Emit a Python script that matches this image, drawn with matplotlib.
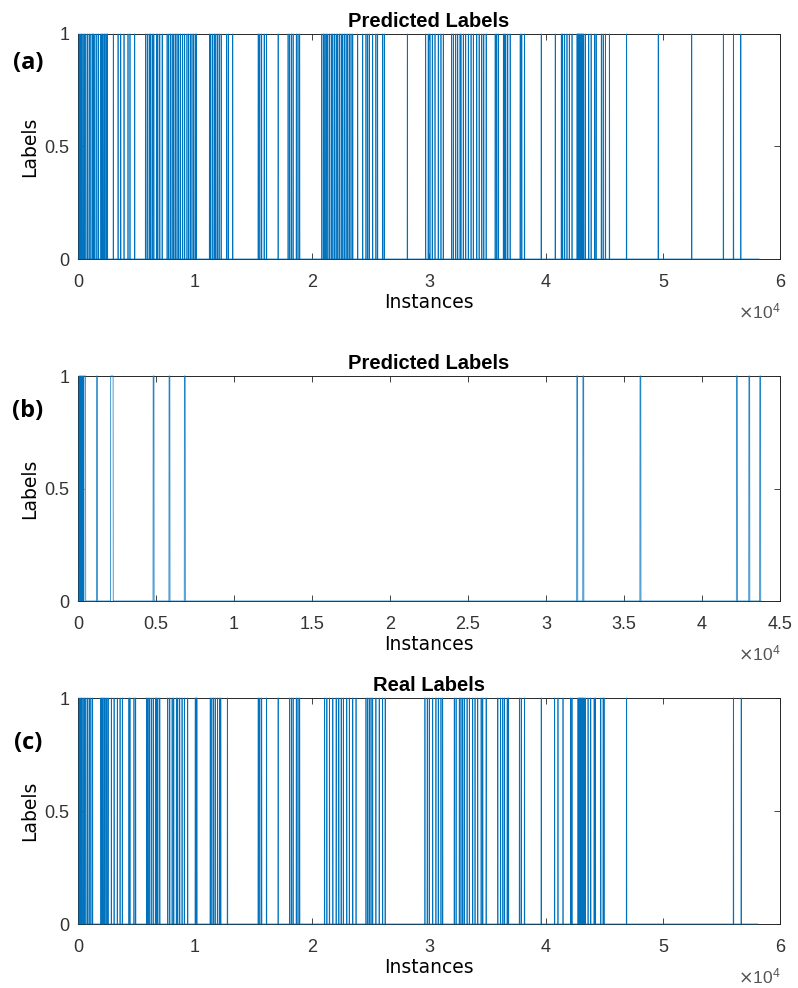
import numpy as np
import matplotlib
matplotlib.use("Agg")
import matplotlib.pyplot as plt
from matplotlib.ticker import FuncFormatter

# Positions (in thousands of instances) where the label switches to 1
pred_a_starts = [
    0.08, 0.17, 0.28, 0.40, 0.51, 0.65, 0.79, 0.93, 1.08, 1.22, 1.30, 1.42, 1.59, 1.73,
    1.93, 2.01, 2.10, 2.21, 2.29, 2.44, 2.49, 3.00, 3.40, 3.63, 3.91, 4.25, 4.42, 4.82,
    5.75, 5.89, 6.06, 6.18, 6.32, 6.46, 6.69, 6.80, 6.97, 7.17, 7.59, 7.73, 7.88, 8.02,
    8.16, 8.30, 8.44, 8.58, 8.73, 8.92, 9.09, 9.29, 9.43, 9.58, 9.72, 9.86, 10.00, 10.09,
    11.22, 11.33, 11.50, 11.64, 11.76, 11.90, 12.04, 12.21, 12.69, 12.83, 13.20,
    15.38, 15.52, 15.67, 15.89, 16.09, 17.08, 17.93, 18.07, 18.22, 18.36, 18.64, 18.78,
    18.92, 20.82, 20.96, 21.08, 21.19, 21.33, 21.47, 21.62, 21.76, 21.90, 22.04, 22.18,
    22.32, 22.47, 22.61, 22.75, 22.89, 23.03, 23.17, 23.31, 23.46, 23.88, 24.31, 24.59,
    24.73, 24.87, 25.16, 25.44, 25.58, 26.01, 26.15, 28.13, 29.69, 29.91, 30.06, 30.26,
    30.49, 30.77, 31.00, 31.20, 31.91, 32.06, 32.26, 32.43, 32.63, 32.71, 32.91, 33.11,
    33.34, 33.57, 33.77, 34.06, 34.26, 34.49, 34.66, 34.86, 35.63, 35.77, 35.91, 36.34,
    36.43, 36.54, 36.71, 36.91, 37.77, 37.91, 38.14, 39.57, 40.77, 41.29, 41.40, 41.57,
    41.77, 41.97, 42.20, 42.63, 42.68, 42.71, 42.77, 42.82, 42.86, 42.94, 43.00, 43.06,
    43.13, 43.20, 43.34, 43.63, 43.83, 44.14, 44.26, 44.71, 44.86, 45.06, 45.40, 46.86,
    49.57, 52.43, 55.14, 56.00, 56.63,
]
pred_b_starts = [
    0.06, 0.13, 0.21, 0.30, 0.38, 0.43, 1.19, 2.09, 2.13, 2.19, 4.81, 5.83, 6.81,
    31.97, 32.36, 36.02, 42.20, 43.00, 43.70,
]
real_c_starts = [
    0.08, 0.17, 0.28, 0.40, 0.51, 0.65, 0.79, 0.93, 1.08, 1.22, 1.93, 2.01, 2.10, 2.21,
    2.29, 2.44, 2.55, 2.83, 3.06, 3.34, 3.57, 3.77, 4.33, 4.42, 4.76, 4.90, 5.84, 5.95,
    6.06, 6.23, 6.40, 6.60, 6.69, 6.80, 6.97, 7.65, 7.82, 8.02, 8.16, 8.39, 8.50, 8.67,
    8.87, 9.07, 9.35, 10.00, 10.09, 10.14, 11.28, 11.42, 11.56, 11.70, 11.90, 12.07,
    12.18, 12.75, 15.38, 15.52, 15.67, 16.09, 17.08, 18.07, 18.22, 18.36, 18.64, 18.78,
    18.92, 21.05, 21.25, 21.47, 21.76, 22.04, 22.27, 22.47, 22.66, 22.95, 23.17, 23.46,
    23.74, 24.59, 24.73, 24.87, 25.02, 25.16, 25.44, 25.72, 26.01, 26.23, 29.63, 29.83,
    30.00, 30.29, 30.57, 30.77, 31.00, 31.14, 32.14, 32.29, 32.57, 32.71, 32.86, 33.00,
    33.23, 33.43, 33.71, 33.91, 34.14, 34.43, 34.57, 34.86, 35.86, 36.09, 36.29, 36.43,
    36.66, 36.77, 37.71, 37.86, 38.14, 39.57, 40.71, 41.00, 41.43, 42.09, 42.20, 42.71,
    42.80, 42.86, 42.94, 43.00, 43.09, 43.14, 43.23, 43.34, 43.57, 43.80, 44.09, 44.20,
    44.66, 44.86, 44.94, 46.86, 56.00, 56.66,
]

n_instances = [58200, 43800, 58100]
run_length = [40, 60, 40]
titles = ["Predicted Labels", "Predicted Labels", "Real Labels"]
panel_tags = ["(a)", "(b)", "(c)"]
x_max = [6e4, 4.5e4, 6e4]
x_step = [1e4, 0.5e4, 1e4]

line_color = "#0072BD"
axis_color = "#262626"

fig = plt.figure(figsize=(7.98, 9.88), dpi=100)
W, H = 798, 988
# axes pixel boxes: (left, top, right, bottom)
boxes = [(78, 34, 780, 259), (78, 376, 780, 601), (78, 698, 780, 924)]
tag_y = [63, 411, 743]

for k, starts in enumerate([pred_a_starts, pred_b_starts, real_c_starts]):
    n = n_instances[k]
    labels = np.zeros(n)
    for s in starts:
        i = int(s * 1000)
        labels[i:i + run_length[k]] = 1
    l, t, r, b = boxes[k]
    ax = fig.add_axes([l / W, 1 - b / H, (r - l) / W, (b - t) / H])
    ax.plot(np.arange(n), labels, color=line_color, lw=0.5, clip_on=False, zorder=3)
    ax.set_xlim(0, x_max[k])
    ax.set_ylim(0, 1)
    ax.set_xticks(np.arange(0, x_max[k] + 1, x_step[k]))
    ax.set_yticks([0, 0.5, 1])
    ax.xaxis.set_major_formatter(FuncFormatter(lambda v, p: f"{v / 1e4:g}"))
    ax.yaxis.set_major_formatter(FuncFormatter(lambda v, p: f"{v:g}"))
    ax.tick_params(direction="in", top=True, right=True, length=4, width=0.6,
                   colors=axis_color, labelsize=13)
    ax.tick_params(axis="x", pad=10.5)
    ax.tick_params(axis="y", pad=6)
    for lab in ax.get_xticklabels() + ax.get_yticklabels():
        lab.set_family("Liberation Sans")
        lab.set_color("#333333")
    for sp in ax.spines.values():
        sp.set_color(axis_color)
        sp.set_linewidth(0.7)
    ax.set_title(titles[k], fontsize=14.5, fontweight="bold", family="Liberation Sans",
                 pad=5, color="black")
    ax.text(0.5, -(302 - 259) / 225, "Instances", transform=ax.transAxes, ha="center",
            va="center", fontsize=13.5, family="DejaVu Sans", zorder=5)
    ax.text(1.0, -(311 - 259) / 225, r"$\times\mathregular{10^4}$", transform=ax.transAxes,
            ha="right", va="center", fontsize=12.5, family="Liberation Sans", color="#555555")
    ax.set_ylabel("Labels", fontsize=13.5, family="DejaVu Sans", labelpad=4)
    fig.text(28 / W, 1 - tag_y[k] / H, panel_tags[k], ha="center", va="center",
             fontsize=17, fontweight="bold", family="Open Sans")

fig.savefig("out.png", dpi=100)
